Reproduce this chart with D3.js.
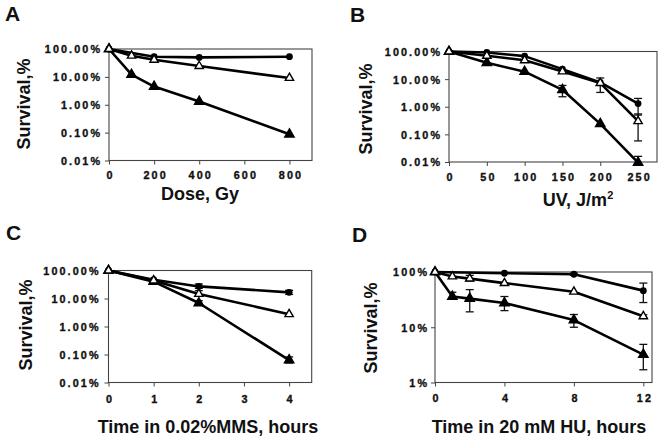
<!DOCTYPE html>
<html><head><meta charset="utf-8">
<script src="https://cdn.jsdelivr.net/npm/d3@7"></script>
<style>body{margin:0;background:#fff}svg{display:block}</style>
</head><body>
<svg id="c" width="665" height="442"></svg>
<script>
// ---------- DATA ----------
// Panel A: IR dose (Gy) vs survival (%)
const doseA      = [0, 100, 200, 400, 800];
const doseACirc  = [0, 200, 400, 800];
const circA      = [100, 53, 50, 53];
const openA      = [100, 57.5, 41, 24.4, 9.1];
const fillA      = [100, 12, 4.5, 1.3, 0.087];

// Panel B: UV (J/m2) vs survival (%)
const uvB        = [0, 50, 100, 150, 200, 250];
const circB      = [100, 92, 68, 23, 7.6, 1.3];
const openB      = [100, 70, 48, 19, 7.2, 0.3];
const fillB      = [100, 39, 18.6, 4.1, 0.24, 0.0095];
const circBErr   = [null, null, null, null, null, [0.5, 2.0]];
const openBErr   = [null, null, null, null, [3.3, 11], [0.058, 0.55]];
const fillBErr   = [null, null, null, [2.3, 5.9], null, [0.0095, 0.016]];

// Panel C: time in 0.02% MMS (h) vs survival (%)
const timeC      = [0, 1, 2, 4];
const circC      = [100, 47, 27, 16.6];
const openC      = [100, 44, 14.5, 2.75];
const fillC      = [100, 40, 6.9, 0.063];
const circCErr   = [null, null, [23, 33], [14, 19.6]];
const openCErr   = [null, null, [12, 19], null];
const fillCErr   = [null, null, [6.3, 8.3], [0.05, 0.082]];

// Panel D: time in 20 mM HU (h) vs survival (%)
const timeD      = [0, 1, 2, 4, 8, 12];
const timeDCirc  = [0, 4, 8, 12];
const circD      = [100, 95, 91, 46];
const openD      = [100, 83, 76, 63, 44, 15.8];
const fillD      = [100, 36, 33, 27.5, 13.5, 3.2];
const circDErr   = [null, null, [87, 95], [28, 63]];
const openDErr   = [null, null, [69, 87], null, null, [15, 16.8]];
const fillDErr   = [null, [34, 43], [19, 48], [20, 36], [10, 17], [1.7, 4.9]];

// Tick values / labels
const yTicksLog4   = [0.01, 0.1, 1, 10, 100];
const yLabelsLog4  = ["0.01%", "0.10%", "1.00%", "10.00%", "100.00%"];
const yTicksLog2   = [1, 10, 100];
const yLabelsLog2  = ["1%", "10%", "100%"];
const xTicksA = [0, 200, 400, 600, 800];
const xTicksB = [0, 50, 100, 150, 200, 250];
const xTicksC = [0, 1, 2, 3, 4];
const xTicksD = [0, 4, 8, 12];

// ---------- LAYOUT ----------
const FONT = "'Liberation Sans', Arial, Helvetica, sans-serif";
const LS = 2.1; // tick-label letter spacing
const panels = [
  { id: "A", box: {l: 109, r: 312, t: 49, b: 160.5}, xDomain: [0, 900], yDomain: [0.01, 100],
    xTicks: xTicksA, yTicks: yTicksLog4, yLabels: yLabelsLog4,
    title: [5, 21], yLab: [24, 104], xLab: [200, 200], xLabText: "Dose, Gy", xTickBase: 179, yTickRight: 100,
    series: [
      {type: "circle", x: doseACirc, v: circA},
      {type: "fill", x: doseA, v: fillA},
      {type: "open", x: doseA, v: openA}
    ]},
  { id: "B", box: {l: 449, r: 657, t: 51.5, b: 162}, xDomain: [0, 275], yDomain: [0.01, 100],
    xTicks: xTicksB, yTicks: yTicksLog4, yLabels: yLabelsLog4,
    title: [350, 22], yLab: [366, 109], xLab: [578, 206], xLabText: "UV, J/m", xSup: "2", xTickBase: 181, yTickRight: 440,
    series: [
      {type: "circle", x: uvB, v: circB, err: circBErr},
      {type: "fill", x: uvB, v: fillB, err: fillBErr},
      {type: "open", x: uvB, v: openB, err: openBErr}
    ]},
  { id: "C", box: {l: 108.5, r: 311.7, t: 270.5, b: 382.5}, xDomain: [0, 4.5], yDomain: [0.01, 100],
    xTicks: xTicksC, yTicks: yTicksLog4, yLabels: yLabelsLog4,
    title: [6, 240], yLab: [26, 325], xLab: [208, 433], xLabText: "Time in 0.02%MMS, hours", xTickBase: 403, yTickRight: 98.5,
    series: [
      {type: "circle", x: timeC, v: circC, err: circCErr},
      {type: "fill", x: timeC, v: fillC, err: fillCErr},
      {type: "open", x: timeC, v: openC, err: openCErr}
    ]},
  { id: "D", box: {l: 435, r: 652, t: 272, b: 382.5}, xDomain: [0, 12.5], yDomain: [1, 100],
    xTicks: xTicksD, yTicks: yTicksLog2, yLabels: yLabelsLog2,
    title: [352, 242], yLab: [371, 328], xLab: [539, 433], xLabText: "Time in 20 mM HU, hours", xTickBase: 401.5, yTickRight: 427,
    series: [
      {type: "circle", x: timeDCirc, v: circD, err: circDErr},
      {type: "fill", x: timeD, v: fillD, err: fillDErr},
      {type: "open", x: timeD, v: openD, err: openDErr}
    ]}
];

// ---------- DRAW ----------
const svg = d3.select("#c");
svg.append("rect").attr("width", 665).attr("height", 442).attr("fill", "#fff");

function styleTick(sel) {
  sel.attr("fill", "#111").attr("stroke", "#111").attr("stroke-width", 0.35)
    .style("font", `bold 10.8px ${FONT}`).style("letter-spacing", LS + "px");
}

function drawPanel(p) {
  const g = svg.append("g");
  const x = d3.scaleLinear().domain(p.xDomain).range([p.box.l, p.box.r]);
  const y = d3.scaleLog().domain(p.yDomain).range([p.box.b, p.box.t]);

  // frame
  g.append("rect")
    .attr("x", p.box.l).attr("y", p.box.t)
    .attr("width", p.box.r - p.box.l).attr("height", p.box.b - p.box.t)
    .attr("fill", "none").attr("stroke", "#444").attr("stroke-width", 1.1);

  // x axis
  g.append("g").attr("transform", `translate(0,${p.box.b})`)
    .call(d3.axisBottom(x).tickValues(p.xTicks).tickSize(4).tickFormat(d3.format("d")))
    .call(s => {
      s.select(".domain").remove();
      s.selectAll(".tick line").attr("stroke", "#444");
      s.selectAll(".tick text")
        .attr("y", p.xTickBase - p.box.b).attr("dy", 0)
        .attr("dx", LS / 2)
        .call(styleTick);
    });

  // y axis
  g.append("g").attr("transform", `translate(${p.box.l},0)`)
    .call(d3.axisLeft(y).tickValues(p.yTicks).tickSize(4)
      .tickFormat((d, i) => p.yLabels[i]))
    .call(s => {
      s.select(".domain").remove();
      s.selectAll(".tick line").attr("stroke", "#444");
      s.selectAll(".tick text")
        .attr("x", p.yTickRight - p.box.l + LS).attr("dy", "0.36em")
        .call(styleTick);
    });

  // title letter
  g.append("text").attr("x", p.title[0]).attr("y", p.title[1])
    .style("font", `bold 21px ${FONT}`).attr("fill", "#111").text(p.id);

  // y label
  g.append("text")
    .attr("transform", `translate(${p.yLab[0]},${p.yLab[1]}) rotate(-90)`)
    .attr("text-anchor", "middle").attr("dominant-baseline", "central")
    .style("font", `bold 18px ${FONT}`).attr("fill", "#111").text("Survival,%");

  // x label
  const xl = g.append("text").attr("x", p.xLab[0]).attr("y", p.xLab[1])
    .attr("text-anchor", "middle")
    .style("font", `bold 18px ${FONT}`).attr("fill", "#111").text(p.xLabText);
  if (p.xSup) {
    xl.append("tspan").attr("dy", -7).style("font-size", "11px").text(p.xSup);
  }

  const line = d3.line().x(d => x(d.x)).y(d => y(d.v));
  const pts = s => s.x.map((xx, i) => ({x: xx, v: s.v[i], e: s.err ? s.err[i] : null}));

  // lines
  p.series.forEach(s => {
    g.append("path").datum(pts(s)).attr("d", line)
      .attr("fill", "none").attr("stroke", "#000").attr("stroke-width", 2.6)
      .attr("stroke-linejoin", "round");
  });

  // error bars
  p.series.forEach(s => {
    pts(s).filter(d => d.e).forEach(d => {
      const cx = x(d.x), y1 = y(d.e[0]), y2 = y(d.e[1]);
      const eg = g.append("g").attr("stroke", "#111").attr("stroke-width", 1.3);
      eg.append("line").attr("x1", cx).attr("x2", cx).attr("y1", y1).attr("y2", y2);
      eg.append("line").attr("x1", cx - 4).attr("x2", cx + 4).attr("y1", y2).attr("y2", y2);
      if (d.e[0] !== d.v) eg.append("line").attr("x1", cx - 4).attr("x2", cx + 4).attr("y1", y1).attr("y2", y1);
    });
  });

  // markers
  p.series.forEach(s => {
    const data = pts(s);
    if (s.type === "circle") {
      g.selectAll(null).data(data).enter().append("circle")
        .attr("cx", d => x(d.x)).attr("cy", d => y(d.v)).attr("r", 3.4).attr("fill", "#000");
    } else {
      const sym = d3.symbol(d3.symbolTriangle).size(s.type === "fill" ? 38 : 30);
      g.selectAll(null).data(data).enter().append("path")
        .attr("d", sym)
        .attr("transform", d => `translate(${x(d.x)},${y(d.v)})`)
        .attr("fill", s.type === "fill" ? "#000" : "#fff")
        .attr("stroke", "#000").attr("stroke-width", 1.4);
    }
  });
}

panels.forEach(drawPanel);
</script>
</body></html>
